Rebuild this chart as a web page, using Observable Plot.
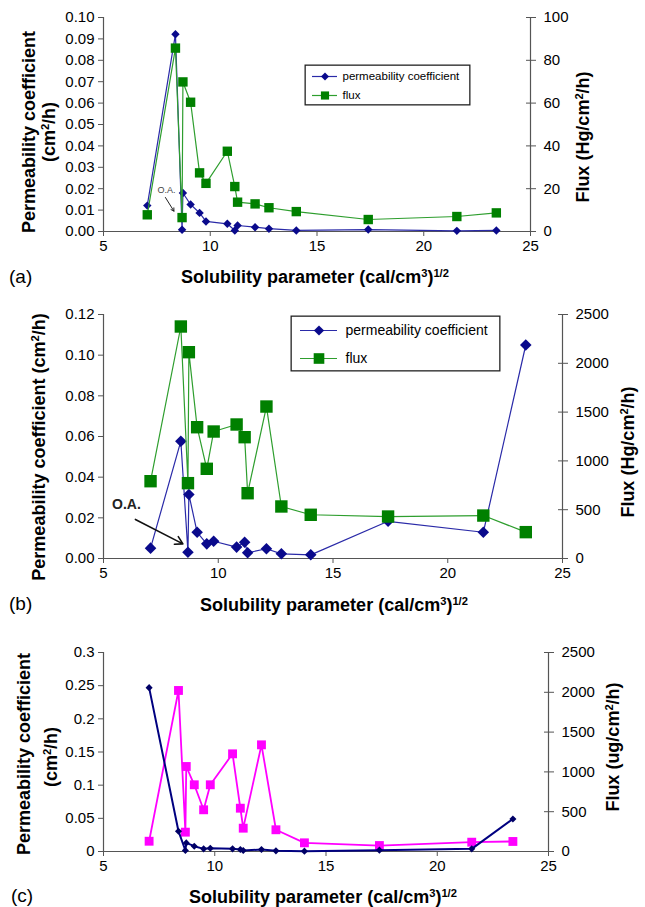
<!DOCTYPE html>
<html>
<head>
<meta charset="utf-8">
<script src="https://cdn.jsdelivr.net/npm/d3@7"></script>
<script src="https://cdn.jsdelivr.net/npm/@observablehq/plot@0.6"></script>
<style>
  body { margin: 0; background: #fff; font-family: "Liberation Sans", Arial, sans-serif; }
  #fig { position: relative; width: 645px; height: 907px; overflow: hidden; background: #fff; }
  .lbl { position: absolute; font-weight: bold; font-size: 18px; white-space: nowrap; color: #000; line-height: 1; transform: translate(-50%, -50%); }
  .rot { transform: translate(-50%, -50%) rotate(-90deg); }
  .tag { position: absolute; font-size: 19px; color: #000; line-height: 1; transform: translate(0, -50%); }
  sup { font-size: 0.62em; vertical-align: 0.55em; line-height: 0; }
</style>
</head>
<body>
<div id="fig"></div>
<script>
// ---------------- data ----------------
const solubility = [7.05, 8.37, 8.68, 8.72, 9.08, 9.5, 9.8, 10.8, 11.15, 11.28, 12.1, 12.75, 14.03, 17.4, 21.55, 23.4];

// panel (a)
const permA = [0.0121, 0.0922, 0.0008, 0.018, 0.0126, 0.0087, 0.0047, 0.0036, 0.0005, 0.0028, 0.002, 0.0013, 0.0005, 0.0009, 0.0003, 0.0005];
const fluxA = [7.8, 85.7, 6.5, 69.9, 60.4, 27.4, 22.5, 37.5, 21, 13.7, 12.9, 11.1, 9.3, 5.6, 7, 8.7];
// panel (b)
const permB = [0.0051, 0.0577, 0.0031, 0.0315, 0.0129, 0.0072, 0.0085, 0.0056, 0.008, 0.0028, 0.0048, 0.0023, 0.0018, 0.0183, 0.0129, 0.105];
const fluxB = [792, 2377, 772, 2114, 1345, 919, 1301, 1373, 1243, 669, 1557, 533, 448, 430, 440, 270];
// panel (c)
const permC = [0.247, 0.0306, 0.0015, 0.013, 0.008, 0.004, 0.005, 0.004, 0.003, 0.0015, 0.003, 0.001, 0.0005, 0.002, 0.004, 0.049];
const fluxC = [129, 2023, 243, 1068, 838, 524, 838, 1227, 544, 293, 1340, 273, 109, 75, 117, 126];

// ticks
const xTicks = [5, 10, 15, 20, 25];
const permTicksA = [0, 0.01, 0.02, 0.03, 0.04, 0.05, 0.06, 0.07, 0.08, 0.09, 0.10];
const permLabelsA = ["0.00", "0.01", "0.02", "0.03", "0.04", "0.05", "0.06", "0.07", "0.08", "0.09", "0.10"];
const fluxTicksA = [0, 20, 40, 60, 80, 100];
const permTicksB = [0, 0.02, 0.04, 0.06, 0.08, 0.10, 0.12];
const permLabelsB = ["0.00", "0.02", "0.04", "0.06", "0.08", "0.10", "0.12"];
const fluxTicksB = [0, 500, 1000, 1500, 2000, 2500];
const permTicksC = [0, 0.05, 0.1, 0.15, 0.2, 0.25, 0.3];
const permLabelsC = ["0", "0.05", "0.1", "0.15", "0.2", "0.25", "0.3"];
const fluxTicksC = [0, 500, 1000, 1500, 2000, 2500];

const seriesNames = ["permeability coefficient", "flux"];

// O.A. annotations (data units)
const oaArrowA = [{x1: 7.9, y1: 0.0159, x2: 8.3, y2: 0.0095}];
const oaTextA = [{x: 7.95, y: 0.0193, t: "O.A."}];
const oaArrowB = [{x1: 6.39, y1: 0.0192, x2: 8.46, y2: 0.0072}];
const oaTextB = [{x: 6.0, y: 0.0266, t: "O.A."}];

// ---------------- helpers ----------------
const fig = document.getElementById("fig");
const FONT = "'Liberation Sans', Arial, sans-serif";
const AX = "#555";
const diamond = d3.symbolDiamond2 || "diamond";

function rowsOf(perm, flux) {
  return solubility.map((s, i) => ({s, perm: perm[i], flux: flux[i]}));
}
function place(el, left, top) {
  el.style.position = "absolute";
  el.style.left = left + "px";
  el.style.top = top + "px";
  fig.appendChild(el);
}
function labelFmt(ticks, labels) {
  return d => labels[ticks.findIndex(t => Math.abs(t - d) < 1e-9)] ?? String(d);
}

function leftLayer({top, height, mt, mb, mr, domain, ticks, labels, rows, lineColor, dotColor, r, sw, extra = []}) {
  const svg = Plot.plot({
    width: 645, height, marginTop: mt, marginBottom: mb, marginLeft: 103, marginRight: mr,
    style: {background: "transparent", fontFamily: FONT, fontSize: "15px", color: "#000", overflow: "visible"},
    x: {domain: [5, 25]},
    y: {domain},
    marks: [
      Plot.axisX({ticks: xTicks, tickSize: 5, tickPadding: 4, label: null, fontSize: 15, stroke: AX}),
      Plot.axisY({ticks, tickSize: 5, tickPadding: 4, label: null, fontSize: 15, stroke: AX, tickFormat: labelFmt(ticks, labels)}),
      Plot.ruleY([domain[0]], {stroke: AX, strokeWidth: 1.2}),
      Plot.ruleX([5], {stroke: AX, strokeWidth: 1.2}),
      Plot.line(rows, {x: "s", y: "perm", stroke: lineColor, strokeWidth: sw}),
      Plot.dot(rows, {x: "s", y: "perm", symbol: diamond, r, fill: dotColor, stroke: "none"}),
      ...extra
    ]
  });
  place(svg, 0, top);
  return svg;
}

function rightLayer({top, height, mt, mb, mr, domain, ticks, rows, lineColor, dotColor, r, sw}) {
  const svg = Plot.plot({
    width: 645, height, marginTop: mt, marginBottom: mb, marginLeft: 103, marginRight: mr,
    style: {background: "transparent", fontFamily: FONT, fontSize: "15px", color: "#000", overflow: "visible"},
    x: {domain: [5, 25], axis: null},
    y: {domain, axis: null},
    marks: [
      Plot.axisY({anchor: "right", ticks, tickSize: 10, dx: -5, tickPadding: 8, label: null, fontSize: 15, stroke: AX, tickFormat: d3.format("d")}),
      Plot.ruleX([25], {stroke: AX, strokeWidth: 1.2}),
      Plot.line(rows, {x: "s", y: "flux", stroke: lineColor, strokeWidth: sw}),
      Plot.dot(rows, {x: "s", y: "flux", symbol: "square", r, fill: dotColor, stroke: "none"})
    ]
  });
  place(svg, 0, top);
  return svg;
}

function legendBox({left, top, width, height, rowY, lineX, gap, fontSize, styles}) {
  const svg = Plot.plot({
    width, height, margin: 0,
    style: {background: "transparent", fontFamily: FONT, color: "#000", overflow: "visible"},
    x: {domain: [0, 1], range: lineX, axis: null},
    y: {type: "point", domain: seriesNames, range: rowY, padding: 0, axis: null},
    marks: [
      Plot.frame({fill: "white", stroke: "#222", strokeWidth: 1.3, inset: 0.65}),
      ...seriesNames.flatMap((n, i) => [
        Plot.ruleY([n], {x1: 0, x2: 1, stroke: styles[i].line, strokeWidth: styles[i].sw}),
        Plot.dot([n], {x: 0.5, y: d => d, symbol: styles[i].symbol, r: styles[i].r, fill: styles[i].fill, stroke: "none"}),
        Plot.text([n], {x: 1, y: d => d, text: d => d, dx: gap, textAnchor: "start", fontSize, fill: "#000"})
      ])
    ]
  });
  place(svg, left, top);
}

function html(cls, text, left, top) {
  const d = document.createElement("div");
  d.className = cls;
  d.innerHTML = text;
  d.style.left = left + "px";
  d.style.top = top + "px";
  fig.appendChild(d);
}

// ---------------- panel (a) ----------------
const rowsA = rowsOf(permA, fluxA);
leftLayer({top: 0, height: 262, mt: 17, mb: 31, mr: 115, domain: [0, 0.1], ticks: permTicksA, labels: permLabelsA,
  rows: rowsA, lineColor: "#2a2aa8", dotColor: "#0a0a8c", r: 3.8, sw: 1.2,
  extra: [
    Plot.arrow(oaArrowA, {x1: "x1", y1: "y1", x2: "x2", y2: "y2", stroke: "#222", strokeWidth: 1, headLength: 5}),
    Plot.text(oaTextA, {x: "x", y: "y", text: "t", fontSize: 9, fill: "#444"})
  ]});
rightLayer({top: 0, height: 262, mt: 17, mb: 31, mr: 115, domain: [0, 100], ticks: fluxTicksA,
  rows: rowsA, lineColor: "#2e9e2e", dotColor: "#008000", r: 5.3, sw: 1.2});
legendBox({left: 304, top: 64, width: 166, height: 41, rowY: [12, 31], lineX: [8, 33], gap: 5, fontSize: 11.5,
  styles: [
    {line: "#2a2aa8", sw: 1.2, symbol: diamond, r: 3.6, fill: "#0a0a8c"},
    {line: "#2e9e2e", sw: 1.2, symbol: "square", r: 4.6, fill: "#008000"}
  ]});
html("lbl rot", "Permeability coefficient", 29, 132);
html("lbl rot", "(cm<sup>2</sup>/h)", 49, 132);
html("lbl rot", "Flux (Hg/cm<sup>2</sup>/h)", 583, 137);
html("lbl", "Solubility parameter (cal/cm<sup>3</sup>)<sup>1/2</sup>", 315, 277);
html("tag", "(a)", 9, 276);

// ---------------- panel (b) ----------------
const rowsB = rowsOf(permB, fluxB);
leftLayer({top: 290, height: 300, mt: 24, mb: 32, mr: 83, domain: [0, 0.12], ticks: permTicksB, labels: permLabelsB,
  rows: rowsB, lineColor: "#2a2aa8", dotColor: "#0a0a8c", r: 5.2, sw: 1.2,
  extra: [
    Plot.arrow(oaArrowB, {x1: "x1", y1: "y1", x2: "x2", y2: "y2", stroke: "#111", strokeWidth: 1.6, headLength: 8}),
    Plot.text(oaTextB, {x: "x", y: "y", text: "t", fontSize: 14, fontWeight: "bold", fill: "#222"})
  ]});
rightLayer({top: 290, height: 300, mt: 24, mb: 32, mr: 83, domain: [0, 2500], ticks: fluxTicksB,
  rows: rowsB, lineColor: "#2e9e2e", dotColor: "#008000", r: 7, sw: 1.2});
legendBox({left: 290, top: 315, width: 210, height: 56, rowY: [15, 43], lineX: [10, 47], gap: 8, fontSize: 14,
  styles: [
    {line: "#2a2aa8", sw: 1.2, symbol: diamond, r: 4.6, fill: "#0a0a8c"},
    {line: "#2e9e2e", sw: 1.2, symbol: "square", r: 6, fill: "#008000"}
  ]});
html("lbl rot", "Permeability coefficient (cm<sup>2</sup>/h)", 39, 447);
html("lbl rot", "Flux (Hg/cm<sup>2</sup>/h)", 628, 452);
html("lbl", "Solubility parameter (cal/cm<sup>3</sup>)<sup>1/2</sup>", 334, 605);
html("tag", "(b)", 9, 603);

// ---------------- panel (c) ----------------
const rowsC = rowsOf(permC, fluxC);
rightLayer({top: 620, height: 262, mt: 32, mb: 31, mr: 97, domain: [0, 2500], ticks: fluxTicksC,
  rows: rowsC, lineColor: "#ff00ff", dotColor: "#ff00ff", r: 5, sw: 1.8});
leftLayer({top: 620, height: 262, mt: 32, mb: 31, mr: 97, domain: [0, 0.3], ticks: permTicksC, labels: permLabelsC,
  rows: rowsC, lineColor: "#000080", dotColor: "#000066", r: 3.2, sw: 2});
html("lbl rot", "Permeability coefficient", 24, 754);
html("lbl rot", "(cm<sup>2</sup>/h)", 51, 757);
html("lbl rot", "Flux (ug/cm<sup>2</sup>/h)", 613, 747);
html("lbl", "Solubility parameter (cal/cm<sup>3</sup>)<sup>1/2</sup>", 323, 897);
html("tag", "(c)", 11, 895);
</script>
</body>
</html>
